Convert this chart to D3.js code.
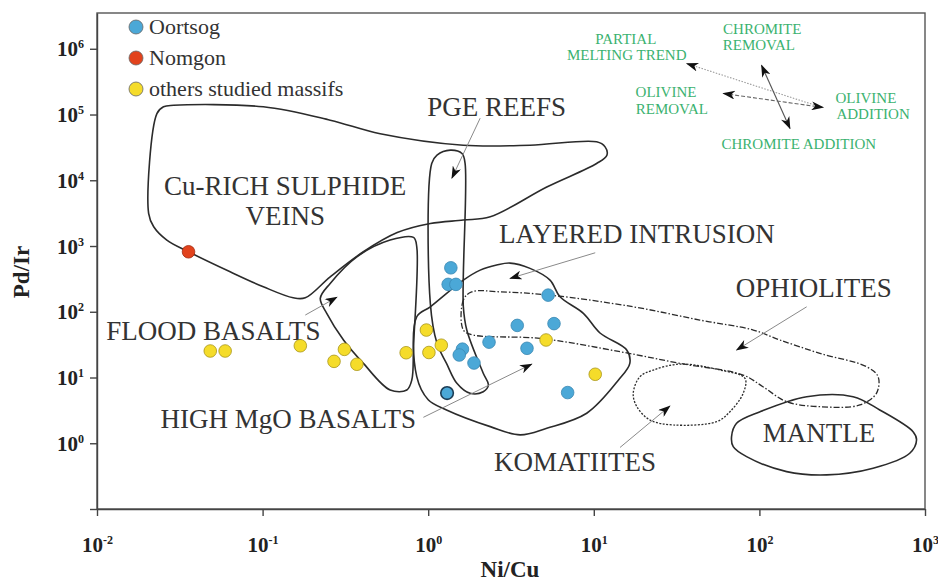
<!DOCTYPE html>
<html>
<head>
<meta charset="utf-8">
<script src="https://cdn.jsdelivr.net/npm/d3@7"></script>
<style>
  body { margin: 0; background: #fff; }
  svg { display: block; }
  svg text { font-family: 'Liberation Serif', 'Times New Roman', serif; }
</style>
</head>
<body>
<svg id="chart" width="938" height="585"></svg>
<script>
// Sample points (Ni/Cu, Pd/Ir)
const oortsogNiCu = [1.37, 1.32, 1.47, 5.3, 3.45, 5.75, 2.33, 3.95, 1.61, 1.54, 1.89, 1.3, 6.95];
const oortsogPdIr = [466, 261, 261, 179, 62, 66, 34.5, 27.8, 27, 22, 16.6, 5.8, 5.9];
const nomgonNiCu = [0.0357];
const nomgonPdIr = [817];
const othersNiCu = [0.0483, 0.0594, 0.169, 0.312, 0.27, 0.371, 0.736, 0.975, 1.01, 1.2, 5.15, 10.2];
const othersPdIr = [25.3, 25.3, 30.4, 26.8, 17.6, 15.9, 23.8, 52.7, 24, 31, 37.2, 11.2];

// Field outlines, [Ni/Cu, Pd/Ir]
const veinsField = [
  [0.0252, 1.31e5], [0.029, 1.38e5], [0.101, 1.31e5], [0.256, 8.2e4], [0.513, 5.1e4],
  [1.63, 3.41e4], [4.12, 3.41e4], [10.4, 3.84e4], [11.7, 3.22e4], [12.0, 2.41e4],
  [10.4, 1.8e4], [5.2, 7.9e3], [2.37, 2.78e3], [1.63, 2.48e3], [1.03, 2.2e3],
  [0.65, 1.6e3], [0.406, 817], [0.256, 340], [0.181, 163], [0.153, 163],
  [0.101, 240], [0.0637, 405], [0.0357, 817], [0.0264, 1.23e3], [0.022, 1.96e3],
  [0.0205, 3.13e3], [0.023, 1.03e5]
];
const floodField = [
  [0.815, 1.35e3], [0.589, 1.23e3], [0.371, 685], [0.256, 270], [0.223, 160],
  [0.244, 94.6], [0.308, 37.2], [0.406, 16.4], [0.589, 6.46], [0.743, 6.46],
  [0.796, 9.16], [0.815, 29.4], [0.853, 973]
];
const pgeField = [
  [1.13, 2.41e4], [1.36, 2.87e4], [1.6, 2.55e4], [1.67, 1.8e4], [1.63, 119],
  [1.71, 52.7], [2.15, 11.6], [2.31, 7.69], [2.15, 6.08], [1.79, 5.75],
  [1.49, 8.17], [1.29, 16.4], [1.13, 33.1], [1.03, 134], [1.05, 1.8e4]
];
const layeredField = [
  [0.853, 84], [0.853, 10.3], [1.0, 4.6], [1.29, 3.21], [2.37, 1.79], [3.59, 1.34],
  [5.2, 1.69], [9.06, 2.86], [14.1, 9.16], [16.5, 16.4], [15.8, 26.2], [10.9, 47.5],
  [8.65, 94.6], [6.25, 169], [5.44, 303], [4.12, 457], [3.12, 550], [2.59, 513],
  [2.06, 430], [1.63, 303], [1.03, 119]
];
const ophioliteField = [
  [1.83, 201], [1.63, 151], [1.63, 52.7], [1.87, 44.3], [4.73, 39.4],
  [14.4, 24.7], [33.1, 16.4], [79.8, 10.9], [105, 7.25], [146, 4.29],
  [232, 3.6], [404, 3.82], [509, 5.75], [521, 10.3], [444, 14.6],
  [232, 23.3], [133, 37.2], [91.8, 52.7], [43.7, 74.8], [17.3, 119],
  [5.44, 179], [2.72, 201]
];
const komatiiteField = [
  [17.3, 5.75], [19.0, 10.3], [22.9, 13.0], [33.1, 16.0], [57.8, 13.0],
  [81.8, 9.72], [79.8, 5.75], [66.4, 3.02], [55.2, 2.13], [30.2, 1.9],
  [21.8, 2.26], [18.2, 3.6]
];
const mantleField = [
  [67.9, 1.26], [72.8, 2.01], [101, 3.02], [193, 5.11], [368, 5.11],
  [533, 3.21], [847, 1.5], [889, 1.12], [809, 0.705], [486, 0.417],
  [255, 0.33], [146, 0.37], [83.7, 0.625], [69.5, 0.888]
];

// Field labels and their pointer arrows
const fieldLabels = ['Cu-RICH SULPHIDE', 'VEINS', 'PGE REEFS', 'LAYERED INTRUSION', 'FLOOD BASALTS',
  'HIGH MgO BASALTS', 'OPHIOLITES', 'KOMATIITES', 'MANTLE'];
const fieldLabelAt = [[0.137, 5.94e3], [0.137, 2.08e3], [2.59, 9.4e4], [18.2, 1.1e3], [0.0504, 37.2],
  [0.143, 1.69], [213, 169], [7.7, 0.384], [229, 1.06]];
const pointerFrom = [[2.06, 8.8e4], [10.2, 789], [0.181, 89.1], [0.935, 2.48], [193, 119], [14.4, 0.863]];
const pointerTo = [[1.39, 1.08e4], [3.12, 322], [0.281, 166], [4.22, 16.0], [72.8, 26.2], [28.8, 3.69]];

// Trend sketch (top right)
const trendLabels = ['PARTIAL', 'MELTING TREND', 'CHROMITE', 'REMOVAL', 'OLIVINE', 'REMOVAL',
  'OLIVINE', 'ADDITION', 'CHROMITE ADDITION'];
const trendLabelAt = [[15.6, 1.2e6], [15.8, 6.85e5], [104, 1.7e6], [99.3, 9.5e5], [27.3, 1.85e5],
  [29.6, 1.01e5], [440, 1.5e5], [486, 8.5e4], [173, 2.97e4]];
const trendFrom = [[232, 1.31e5], [103, 5.61e5], [60.5, 2.09e5]];
const trendTo = [[36.4, 5.96e5], [153, 6.12e4], [243, 1.28e5]];

const xTicks = [0.01, 0.1, 1, 10, 100, 1000];
const yTicks = [0.1, 1, 10, 100, 1e3, 1e4, 1e5, 1e6];

const legendNames = ['Oortsog', 'Nomgon', 'others studied massifs'];
const legendColors = ['#4ba8d7', '#e2431d', '#f5dc2a'];

const margin = { top: 13, right: 13, bottom: 76, left: 97 };
const width = 938 - margin.left - margin.right;
const height = 585 - margin.top - margin.bottom;
const serif = "'Liberation Serif', 'Times New Roman', serif";

const svg = d3.select('#chart');
const g = svg.append('g').attr('transform', `translate(${margin.left},${margin.top})`);

const x = d3.scaleLog().domain([0.01, 1000]).range([0, width]);
const y = d3.scaleLog().domain([0.1, 3.5e6]).range([height, 0]);

const defs = svg.append('defs');
defs
  .append('marker')
  .attr('id', 'head')
  .attr('viewBox', '0 0 14 10')
  .attr('refX', 13)
  .attr('refY', 5)
  .attr('markerWidth', 13)
  .attr('markerHeight', 9)
  .attr('markerUnits', 'userSpaceOnUse')
  .attr('orient', 'auto-start-reverse')
  .append('path')
  .attr('d', 'M0,0 L14,5 L0,10 L4,5 Z')
  .attr('fill', '#111');

// frame
g.append('rect')
  .attr('width', width)
  .attr('height', height)
  .attr('fill', 'none')
  .attr('stroke', '#555')
  .attr('stroke-width', 1.4);

const supLabel = (sel, v) => {
  const e = Math.round(Math.log10(v));
  sel.append('tspan').text('10');
  sel.append('tspan').attr('dy', -8).attr('font-size', 12).text(e);
};

// Add X axis
g.append('g')
  .attr('transform', `translate(0,${height})`)
  .call(d3.axisBottom(x).tickValues(xTicks).tickSize(7).tickSizeOuter(0).tickFormat(''))
  .call((a) => a.select('.domain').attr('stroke', '#444').attr('stroke-width', 1.4))
  .call((a) => a.selectAll('.tick line').attr('stroke', '#444').attr('stroke-width', 1.4))
  .call((a) => a.selectAll('.tick text').remove())
  .call((a) =>
    a
      .selectAll('.tick')
      .append('text')
      .attr('y', 43)
      .attr('fill', '#222')
      .attr('text-anchor', 'middle')
      .attr('font-family', serif)
      .attr('font-weight', 'bold')
      .attr('font-size', 21)
      .each(function (d) {
        supLabel(d3.select(this), d);
      })
  );

// Add Y axis
g.append('g')
  .call(d3.axisLeft(y).tickValues(yTicks).tickSize(7).tickSizeOuter(0).tickFormat(''))
  .call((a) => a.select('.domain').attr('stroke', '#444').attr('stroke-width', 1.4))
  .call((a) => a.selectAll('.tick line').attr('stroke', '#444').attr('stroke-width', 1.4))
  .call((a) => a.selectAll('.tick text').remove())
  .call((a) =>
    a
      .selectAll('.tick')
      .filter((d) => d >= 1)
      .append('text')
      .attr('x', -13)
      .attr('y', 7)
      .attr('fill', '#222')
      .attr('text-anchor', 'end')
      .attr('font-family', serif)
      .attr('font-weight', 'bold')
      .attr('font-size', 21)
      .each(function (d) {
        supLabel(d3.select(this), d);
      })
  );

svg.append('text')
  .attr('x', 510)
  .attr('y', 577)
  .attr('text-anchor', 'middle')
  .attr('fill', '#222')
  .attr('font-family', serif)
  .attr('font-weight', 'bold')
  .attr('font-size', 23)
  .text('Ni/Cu');

svg.append('text')
  .attr('transform', 'translate(29,272) rotate(-90)')
  .attr('text-anchor', 'middle')
  .attr('fill', '#222')
  .attr('font-family', serif)
  .attr('font-weight', 'bold')
  .attr('font-size', 23)
  .text('Pd/Ir');

// fields
const outline = d3
  .line()
  .x((d) => x(d[0]))
  .y((d) => y(d[1]))
  .curve(d3.curveCatmullRomClosed.alpha(0.5));

const fields = [
  { pts: veinsField, dash: null, w: 1.6 },
  { pts: floodField, dash: null, w: 1.6 },
  { pts: pgeField, dash: null, w: 1.6 },
  { pts: layeredField, dash: null, w: 1.6 },
  { pts: ophioliteField, dash: '6,2,1.5,2', w: 1.3 },
  { pts: komatiiteField, dash: '2,1.5', w: 1.3 },
  { pts: mantleField, dash: null, w: 1.6 },
];

g.append('g')
  .selectAll('path')
  .data(fields)
  .enter()
  .append('path')
  .attr('d', (f) => outline(f.pts))
  .attr('fill', 'none')
  .attr('stroke', '#2b2b2b')
  .attr('stroke-width', (f) => f.w)
  .attr('stroke-dasharray', (f) => f.dash);

// pointers
g.append('g')
  .selectAll('line')
  .data(pointerFrom)
  .enter()
  .append('line')
  .attr('x1', (d) => x(d[0]))
  .attr('y1', (d) => y(d[1]))
  .attr('x2', (d, i) => x(pointerTo[i][0]))
  .attr('y2', (d, i) => y(pointerTo[i][1]))
  .attr('stroke', '#8a8a8a')
  .attr('stroke-width', 1)
  .attr('marker-end', 'url(#head)');

g.append('g')
  .selectAll('text')
  .data(fieldLabels)
  .enter()
  .append('text')
  .attr('x', (d, i) => x(fieldLabelAt[i][0]))
  .attr('y', (d, i) => y(fieldLabelAt[i][1]))
  .attr('text-anchor', 'middle')
  .attr('fill', '#333')
  .attr('font-family', serif)
  .attr('font-size', 27)
  .text((d) => d);

// trend sketch
const trendStyles = [
  { dash: '1.5,1.5', color: '#9a9a9a', both: false },
  { dash: null, color: '#555', both: true },
  { dash: '4,2', color: '#666', both: true },
];

g.append('g')
  .selectAll('line')
  .data(trendFrom)
  .enter()
  .append('line')
  .attr('x1', (d) => x(d[0]))
  .attr('y1', (d) => y(d[1]))
  .attr('x2', (d, i) => x(trendTo[i][0]))
  .attr('y2', (d, i) => y(trendTo[i][1]))
  .attr('stroke', (d, i) => trendStyles[i].color)
  .attr('stroke-width', 1.1)
  .attr('stroke-dasharray', (d, i) => trendStyles[i].dash)
  .attr('marker-end', 'url(#head)')
  .attr('marker-start', (d, i) => (trendStyles[i].both ? 'url(#head)' : null));

g.append('g')
  .selectAll('text')
  .data(trendLabels)
  .enter()
  .append('text')
  .attr('x', (d, i) => x(trendLabelAt[i][0]))
  .attr('y', (d, i) => y(trendLabelAt[i][1]))
  .attr('text-anchor', 'middle')
  .attr('fill', '#3bb26f')
  .attr('font-family', serif)
  .attr('font-size', 15)
  .text((d) => d);

// points
const scatter = g.append('g');

scatter
  .selectAll('.others')
  .data(othersNiCu)
  .enter()
  .append('circle')
  .attr('cx', (d) => x(d))
  .attr('cy', (d, i) => y(othersPdIr[i]))
  .attr('r', 6.3)
  .attr('fill', legendColors[2])
  .attr('stroke', '#a8961c')
  .attr('stroke-width', 0.8);

scatter
  .selectAll('.oortsog')
  .data(oortsogNiCu)
  .enter()
  .append('circle')
  .attr('cx', (d) => x(d))
  .attr('cy', (d, i) => y(oortsogPdIr[i]))
  .attr('r', 6.3)
  .attr('fill', legendColors[0])
  .attr('stroke', (d, i) => (i === 11 ? '#1d3d55' : '#3a88b3'))
  .attr('stroke-width', (d, i) => (i === 11 ? 1.6 : 0.8));

scatter
  .selectAll('.nomgon')
  .data(nomgonNiCu)
  .enter()
  .append('circle')
  .attr('cx', (d) => x(d))
  .attr('cy', (d, i) => y(nomgonPdIr[i]))
  .attr('r', 6.3)
  .attr('fill', legendColors[1])
  .attr('stroke', '#a32c12')
  .attr('stroke-width', 0.8);

// legend
const legend = svg
  .append('g')
  .selectAll('g')
  .data(legendNames)
  .enter()
  .append('g')
  .attr('transform', (d, i) => `translate(136,${27 + i * 31})`);

legend
  .append('circle')
  .attr('r', 7)
  .attr('fill', (d, i) => legendColors[i])
  .attr('stroke', '#666')
  .attr('stroke-width', 0.8);

legend
  .append('text')
  .attr('x', 13)
  .attr('y', 7)
  .attr('fill', '#333')
  .attr('font-family', serif)
  .attr('font-size', 22)
  .text((d) => d);
</script>
</body>
</html>
